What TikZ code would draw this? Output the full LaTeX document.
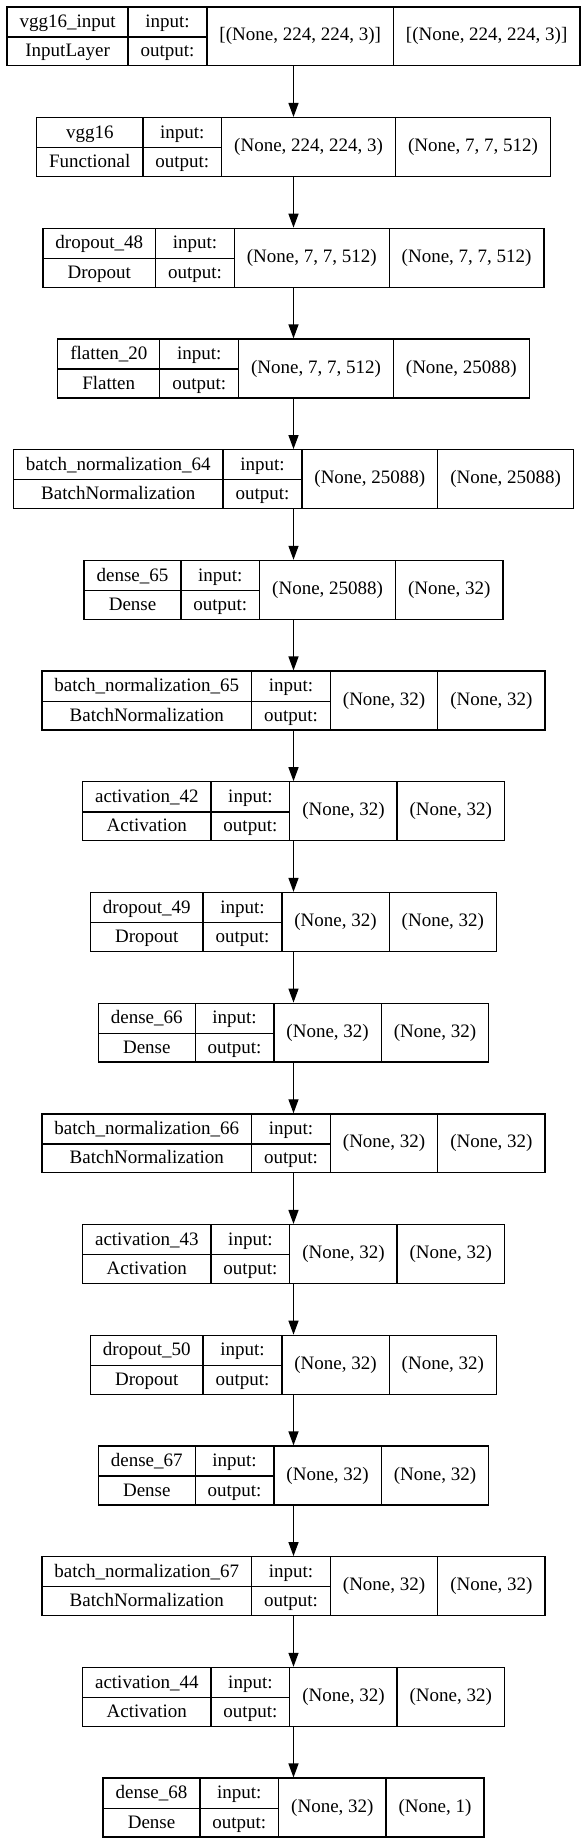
\documentclass[tikz,border=0pt]{standalone}
\usepackage{fontspec}
\setmainfont{Liberation Serif}
\usepackage{multirow}
\usetikzlibrary{arrows.meta}

\begin{document}
\setlength{\tabcolsep}{12.5pt}
\setlength{\arrayrulewidth}{1.3pt}
\renewcommand{\arraystretch}{1.28}
\begin{tikzpicture}[x=1pt,y=1pt,
  layer/.style={draw, line width=1.3pt, inner sep=0pt, font=\fontsize{19}{23}\selectfont},
  flow/.style={line width=1.3pt, -{Triangle[length=14pt,width=10pt]}}]
\useasboundingbox (0,0) rectangle (587,-1844);

\foreach \nm/\cls/\ins/\outs [count=\k from 0] in {
  vgg16\_input/InputLayer/{[(None, 224, 224, 3)]}/{[(None, 224, 224, 3)]},
  vgg16/Functional/{(None, 224, 224, 3)}/{(None, 7, 7, 512)},
  dropout\_48/Dropout/{(None, 7, 7, 512)}/{(None, 7, 7, 512)},
  flatten\_20/Flatten/{(None, 7, 7, 512)}/{(None, 25088)},
  batch\_normalization\_64/BatchNormalization/{(None, 25088)}/{(None, 25088)},
  dense\_65/Dense/{(None, 25088)}/{(None, 32)},
  batch\_normalization\_65/BatchNormalization/{(None, 32)}/{(None, 32)},
  activation\_42/Activation/{(None, 32)}/{(None, 32)},
  dropout\_49/Dropout/{(None, 32)}/{(None, 32)},
  dense\_66/Dense/{(None, 32)}/{(None, 32)},
  batch\_normalization\_66/BatchNormalization/{(None, 32)}/{(None, 32)},
  activation\_43/Activation/{(None, 32)}/{(None, 32)},
  dropout\_50/Dropout/{(None, 32)}/{(None, 32)},
  dense\_67/Dense/{(None, 32)}/{(None, 32)},
  batch\_normalization\_67/BatchNormalization/{(None, 32)}/{(None, 32)},
  activation\_44/Activation/{(None, 32)}/{(None, 32)},
  dense\_68/Dense/{(None, 32)}/{(None, 1)}}
  \node[layer] (L\k) at (293.5,-36.35-110.7*\k) {\begin{tabular}{c|c|c|c}
    \nm & input: & \multirow{2}{*}{\ins} & \multirow{2}{*}{\outs} \\ \cline{1-2}
    \cls & output: & &
  \end{tabular}};

% connectors
\foreach \k [evaluate=\k as \j using int(\k+1)] in {0,...,15}
  \draw[flow] (L\k.south) -- (L\j.north);

\end{tikzpicture}
\end{document}
